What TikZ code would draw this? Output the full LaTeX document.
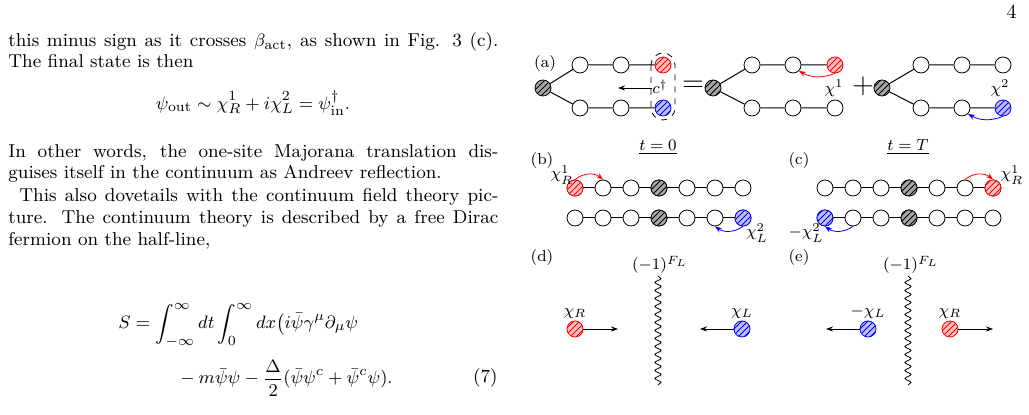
\documentclass[tikz,border=0pt]{standalone}
\usepackage{amsmath}
\usetikzlibrary{patterns,arrows.meta,decorations.pathmorphing,positioning}
\begin{document}
\begin{tikzpicture}[x=0.5pt,y=-0.5pt,
  site/.style={circle,draw,fill=white,minimum size=8pt,inner sep=0pt,line width=0.4pt},
  dsite/.style={site,preaction={fill=gray!70},pattern=north east lines,pattern color=black},
  rsite/.style={site,draw=red,preaction={fill=red!25},pattern=north east lines,pattern color=red},
  bsite/.style={site,draw=blue,preaction={fill=blue!25},pattern=north east lines,pattern color=blue},
  lnk/.style={line width=0.5pt},
  tip/.style={-{Stealth[length=3.5pt,width=2.5pt]}},
  flab/.style={font=\footnotesize,inner sep=1pt},
  txt/.style={anchor=base west,inner sep=0pt,font=\fontsize{9.3}{11}\selectfont}]
\useasboundingbox (0,0) rectangle (1029,415);
% ---- text column
\node[anchor=base east,inner sep=0pt] (pg) at (1017,19) {4};
\node[txt] (l1) at (8,47) {\makebox[245pt][s]{this minus sign as it crosses $\beta_{\mathrm{act}}$, as shown in Fig. 3 (c).}};
\node[txt] (l2) at (8,68) {The final state is then};
\node[txt,anchor=center] (e1) at (253,103) {$\displaystyle \psi_{\mathrm{out}}\sim \chi_R^1+i\chi_L^2=\psi_{\mathrm{in}}^\dagger.$};
\node[txt] (l3) at (8,158) {\makebox[245pt][s]{In other words, the one-site Majorana translation dis-}};
\node[txt] (l4) at (8,179) {guises itself in the continuum as Andreev reflection.};
\node[txt] (l5) at (19,202) {\makebox[239.5pt][s]{This also dovetails with the continuum field theory pic-}};
\node[txt] (l6) at (8,224) {\makebox[245pt][s]{ture. The continuum theory is described by a free Dirac}};
\node[txt] (l7) at (8,246) {fermion on the half-line,};
\node[txt,anchor=west] (e2) at (118,325) {$\displaystyle S=\int_{-\infty}^{\infty}dt\int_0^\infty dx\big(i\bar\psi\gamma^\mu\partial_\mu\psi$};
\node[txt,anchor=east] (e3) at (393,378) {$\displaystyle {}-m\bar\psi\psi-\frac{\Delta}{2}(\bar\psi\psi^c+\bar\psi^c\psi).$};
\node[txt,anchor=east] (e4) at (498,378) {(7)};
% ---- (a)
\node[flab] (la) at (545,64) {(a)};
\node[dsite] (a0) at (543,88) {};
\node[site] (a1) at (580,65) {}; \node[site] (a2) at (621,65) {}; \node[rsite] (a3) at (663,65) {};
\node[site] (a4) at (580,108) {}; \node[site] (a5) at (621,108) {}; \node[bsite] (a6) at (663,108) {};
\draw[lnk] (a0)--(a1)--(a2)--(a3) (a0)--(a4)--(a5)--(a6);
\draw[dashed,rounded corners=6pt] (651,53) rectangle (675,120);
\coordinate (cs) at (652,88); \coordinate (ce) at (618,88);
\draw[tip] (cs)--(ce);
\node[flab] (cd) at (660,87) {$c^\dagger$};
\node (eq) at (693,86) {\Large$=$};
\node[dsite] (b0) at (713,88) {};
\node[site] (b1) at (752,65) {}; \node[site] (b2) at (793,65) {}; \node[rsite] (b3) at (835,65) {};
\node[site] (b4) at (752,108) {}; \node[site] (b5) at (793,108) {}; \node[site] (b6) at (835,108) {};
\draw[lnk] (b0)--(b1)--(b2)--(b3) (b0)--(b4)--(b5)--(b6);
\draw[tip,red] (b3.south) to[bend left=25] (b2.south east);
\node[flab] (x1) at (834,88) {$\chi^1$};
\node (pl) at (863,86) {\Large$+$};
\node[dsite] (c0) at (882,88) {};
\node[site] (c1) at (921,65) {}; \node[site] (c2) at (962,65) {}; \node[site] (c3) at (1003,65) {};
\node[site] (c4) at (921,108) {}; \node[site] (c5) at (962,108) {}; \node[bsite] (c6) at (1003,108) {};
\draw[lnk] (c0)--(c1)--(c2)--(c3) (c0)--(c4)--(c5)--(c6);
\draw[tip,blue] (c6.south) to[bend left=25] (c5.south east);
\node[flab] (x2) at (1000,88) {$\chi^2$};
\node[flab] (t0) at (658,147) {\underline{$t=0$}};
\node[flab] (tT) at (908,147) {\underline{$t=T$}};
% ---- (b)
\node[flab] (lb) at (542,161) {(b)};
\foreach \i/\x in {1/575,2/603,3/631,4/659,5/687,6/715,7/743}{
  \node[site] (bt\i) at (\x,188) {}; \node[site] (bb\i) at (\x,218) {};}
\draw[lnk] (bt1)--(bt2)--(bt3)--(bt4)--(bt5)--(bt6)--(bt7);
\draw[lnk] (bb1)--(bb2)--(bb3)--(bb4)--(bb5)--(bb6)--(bb7);
\node[rsite] at (bt1) {}; \node[dsite] at (bt4) {}; \node[dsite] at (bb4) {}; \node[bsite] at (bb7) {};
\draw[tip,red] (bt1.north) to[bend left=40] (bt2.north);
\draw[tip,blue] (bb7.south) to[bend left=35] (bb6.south);
\node[flab] (xr) at (562,175) {$\chi_R^1$};
\node[flab] (xl) at (757,233) {$\chi_L^2$};
% ---- (c)
\node[flab] (lc) at (799,161) {(c)};
\foreach \i/\x in {1/825,2/853,3/881,4/909,5/937,6/965,7/993}{
  \node[site] (ct\i) at (\x,188) {}; \node[site] (cb\i) at (\x,218) {};}
\draw[lnk] (ct1)--(ct2)--(ct3)--(ct4)--(ct5)--(ct6)--(ct7);
\draw[lnk] (cb1)--(cb2)--(cb3)--(cb4)--(cb5)--(cb6)--(cb7);
\node[rsite] at (ct7) {}; \node[dsite] at (ct4) {}; \node[dsite] at (cb4) {}; \node[bsite] at (cb1) {};
\draw[tip,red] (ct6.north) to[bend left=40] (ct7.north);
\draw[tip,blue] (cb2.south) to[bend left=35] (cb1.south);
\node[flab] (xr2) at (1012,175) {$\chi_R^1$};
\node[flab] (xl2) at (806,233) {$-\chi_L^2$};
% ---- (d)
\node[flab] (ld) at (542,258) {(d)};
\node[flab] (fd) at (660,265) {$(-1)^{F_L}$};
\coordinate (wd1) at (658,276); \coordinate (wd2) at (658,385);
\draw[decorate,decoration={snake,segment length=4pt,amplitude=1.5pt}] (wd1)--(wd2);
\node[rsite] (dr) at (575,329) {}; \coordinate (dre) at (618,329);
\draw[tip] (dr)--(dre);
\node[flab,above=0pt of dr] (dlr) {$\chi_R$};
\node[bsite] (dbl) at (742,329) {}; \coordinate (dbe) at (700,329);
\draw[tip] (dbl)--(dbe);
\node[flab,above=0pt of dbl] (dll) {$\chi_L$};
% ---- (e)
\node[flab] (le) at (799,258) {(e)};
\node[flab] (fe) at (911,265) {$(-1)^{F_L}$};
\coordinate (we1) at (908,276); \coordinate (we2) at (908,385);
\draw[decorate,decoration={snake,segment length=4pt,amplitude=1.5pt}] (we1)--(we2);
\node[bsite] (eb) at (868,329) {}; \coordinate (ebe) at (826,329);
\draw[tip] (eb)--(ebe);
\node[flab,above=0pt of eb] (ebl) {$-\chi_L$};
\node[rsite] (er) at (950,329) {}; \coordinate (ere) at (993,329);
\draw[tip] (er)--(ere);
\node[flab,above=0pt of er] (erl) {$\chi_R$};
\end{tikzpicture}
\end{document}
